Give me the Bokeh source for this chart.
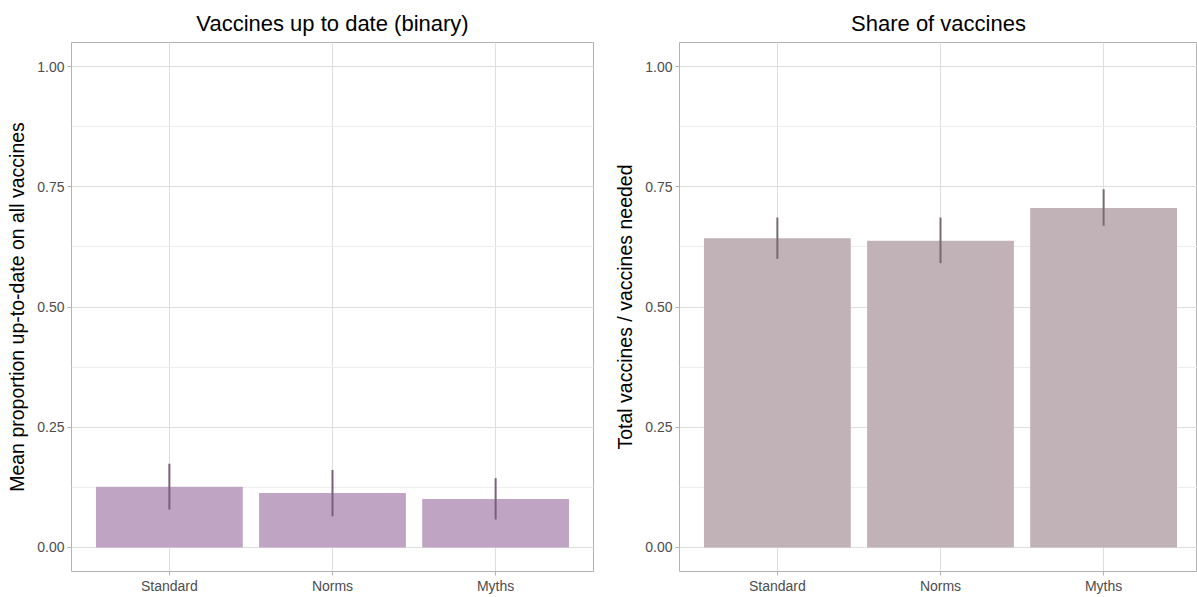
from bokeh.plotting import figure
from bokeh.layouts import row
from bokeh.models import ColumnDataSource, FixedTicker, NumeralTickFormatter, Range1d
from bokeh.embed import file_html
from bokeh.resources import INLINE

categories = ["Standard", "Norms", "Myths"]

binary_mean = [0.126, 0.113, 0.101]
binary_lower = [0.079, 0.065, 0.058]
binary_upper = [0.174, 0.161, 0.144]

share_mean = [0.643, 0.638, 0.706]
share_lower = [0.600, 0.591, 0.669]
share_upper = [0.686, 0.686, 0.745]

y_ticks = [0.0, 0.25, 0.5, 0.75, 1.0]
y_minor = [0.125, 0.375, 0.625, 0.875]

FONT = "Liberation Sans"


def make_panel(title, ylabel, mean, lower, upper, bar_color, err_color,
               width, left_border, right_border, x_end):
    xs = list(range(1, len(categories) + 1))
    src = ColumnDataSource(dict(x=xs, top=mean, lo=lower, hi=upper))
    p = figure(width=width, height=597, output_backend="svg", toolbar_location=None,
               x_range=Range1d(0.4, x_end), y_range=Range1d(-0.05, 1.05),
               min_border_left=left_border, min_border_right=right_border,
               min_border_top=42, min_border_bottom=26)
    p.vbar(x="x", top="top", bottom=0, width=0.9, source=src,
           fill_color=bar_color, line_color=None)
    p.segment(x0="x", x1="x", y0="lo", y1="hi", source=src,
              line_color=err_color, line_width=2)

    p.title.text = title
    p.title.align = "center"
    p.title.text_font = FONT
    p.title.text_font_size = "22px"
    p.title.text_font_style = "normal"
    p.title.text_color = "#000000"
    p.title.text_line_height = 1.0
    p.title.standoff = 14

    p.outline_line_color = "#B3B3B3"
    p.outline_line_width = 1

    p.xaxis.ticker = FixedTicker(ticks=xs)
    p.xaxis.major_label_overrides = {x: c for x, c in zip(xs, categories)}
    p.yaxis.ticker = FixedTicker(ticks=y_ticks, minor_ticks=y_minor)
    p.yaxis.formatter = NumeralTickFormatter(format="0.00")

    for ax in (p.xaxis, p.yaxis):
        ax.axis_line_color = None
        ax.major_tick_line_color = "#B3B3B3"
        ax.major_tick_out = 4
        ax.major_tick_in = 0
        ax.minor_tick_line_color = None
        ax.major_label_text_font = FONT
        ax.major_label_text_font_size = "14px"
        ax.major_label_text_color = "#4D4D4D"
        ax.major_label_standoff = 3
    p.xaxis.major_label_standoff = 2

    p.yaxis.axis_label = ylabel
    p.yaxis.axis_label_text_font = FONT
    p.yaxis.axis_label_text_font_size = "19.5px"
    p.yaxis.axis_label_text_font_style = "normal"
    p.yaxis.axis_label_text_color = "#000000"
    p.yaxis.axis_label_standoff = 6

    p.xgrid.grid_line_color = "#DEDEDE"
    p.ygrid.grid_line_color = "#DEDEDE"
    p.ygrid.minor_grid_line_color = "#EEEEEE"
    p.background_fill_color = "white"
    p.border_fill_color = "white"
    return p


left = make_panel("Vaccines up to date (binary)", "Mean proportion up-to-date on all vaccines",
                  binary_mean, binary_lower, binary_upper, "#C0A4C3", "#7A5F7C",
                  width=608, left_border=71, right_border=15, x_end=3.6)
right = make_panel("Share of vaccines", "Total vaccines / vaccines needed",
                   share_mean, share_lower, share_upper, "#C1B2B7", "#776C70",
                   width=589, left_border=71, right_border=0, x_end=3.5755)

layout = row(left, right)
open("out.html", "w").write(file_html(layout, INLINE))
